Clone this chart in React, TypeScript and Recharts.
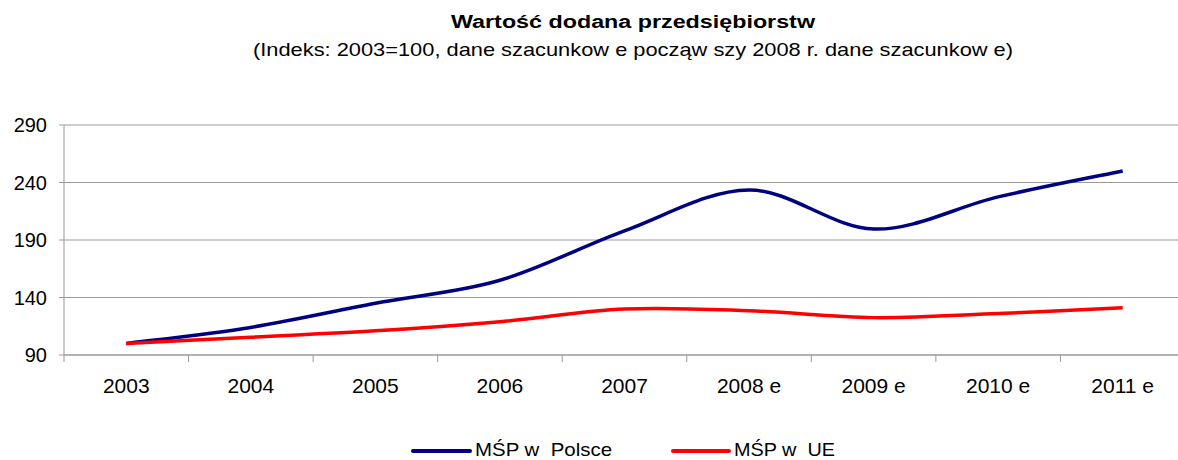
import { LineChart, Line, XAxis, YAxis, CartesianGrid } from 'recharts';

const categories = ['2003', '2004', '2005', '2006', '2007', '2008 e', '2009 e', '2010 e', '2011 e'];
const polska = [100, 114, 135, 155, 198, 233.5, 199.5, 227.5, 250];
const ue = [100, 105.5, 111, 119, 130, 128.5, 122.5, 126, 131];
const yTicks = [90, 140, 190, 240, 290];

const data = categories.map((c, i) => ({ idx: i, name: c, polska: polska[i], ue: ue[i] }));

// band edges (tick marks) and band centres (labels)
const xTicks: number[] = [];
for (let i = 0; i < categories.length; i++) xTicks.push(i - 0.5, i);

const FONT = "'Liberation Sans', Arial, sans-serif";
const AXIS_Y = 355;

// Excel-like smoothing (Catmull-Rom as cubic beziers)
const excelSmooth = (context: any) => {
  let pts: number[][] = [];
  return {
    areaStart() {},
    areaEnd() {},
    lineStart() {
      pts = [];
    },
    point(x: number, y: number) {
      pts.push([+x, +y]);
    },
    lineEnd() {
      const n = pts.length;
      if (!n) return;
      context.moveTo(pts[0][0], pts[0][1]);
      for (let i = 0; i < n - 1; i++) {
        const p0 = pts[Math.max(i - 1, 0)];
        const p1 = pts[i];
        const p2 = pts[i + 1];
        const p3 = pts[Math.min(i + 2, n - 1)];
        context.bezierCurveTo(
          p1[0] + (p2[0] - p0[0]) / 6,
          p1[1] + (p2[1] - p0[1]) / 6,
          p2[0] - (p3[0] - p1[0]) / 6,
          p2[1] - (p3[1] - p1[1]) / 6,
          p2[0],
          p2[1]
        );
      }
    },
  };
};

function XTick({ x, payload }: any) {
  const v = payload.value;
  if (!Number.isInteger(v)) {
    return <line x1={x} x2={x} y1={AXIS_Y} y2={AXIS_Y + 7} stroke='#999' strokeWidth={1} />;
  }
  return (
    <text x={x} y={AXIS_Y + 38} textAnchor='middle' fontFamily={FONT} fontSize={21} fill='#000'>
      {categories[v]}
    </text>
  );
}

export default function App() {
  return (
    <div style={{ position: 'relative', width: 1178, height: 460, background: '#fff' }}>
      <style>{'body{margin:0}'}</style>
      <LineChart
        width={1178}
        height={460}
        data={data}
        margin={{ top: 125, right: 0, bottom: 0, left: 0 }}
      >
        <CartesianGrid vertical={false} stroke='#999' strokeWidth={1} />
        <XAxis
          dataKey='idx'
          type='number'
          domain={[-0.5, 8.444]}
          ticks={xTicks}
          interval={0}
          allowDataOverflow
          tick={<XTick />}
          tickLine={false}
          axisLine={{ stroke: '#999' }}
          height={105}
        />
        <YAxis
          domain={[90, 290]}
          ticks={yTicks}
          width={64}
          tickSize={5}
          tickMargin={12}
          tickLine={{ stroke: '#999' }}
          axisLine={{ stroke: '#999' }}
          tick={{ fontFamily: FONT, fontSize: 20, fill: '#000' }}
        />
        <Line
          dataKey='polska'
          type={excelSmooth as any}
          stroke='#000080'
          strokeWidth={3.5}
          dot={false}
          isAnimationActive={false}
        />
        <Line
          dataKey='ue'
          type={excelSmooth as any}
          stroke='#ff0000'
          strokeWidth={3.5}
          dot={false}
          isAnimationActive={false}
        />
      </LineChart>
      <svg
        width={1178}
        height={460}
        style={{ position: 'absolute', left: 0, top: 0, pointerEvents: 'none' }}
      >
        <text x={451} y={28} fontFamily={FONT} fontSize={18} fontWeight='bold' textLength={364} lengthAdjust='spacingAndGlyphs'>
          Wartość dodana przedsiębiorstw
        </text>
        <text x={253} y={56} fontFamily={FONT} fontSize={19} textLength={760} lengthAdjust='spacingAndGlyphs'>
          (Indeks: 2003=100, dane szacunkow e począw szy 2008 r. dane szacunkow e)
        </text>
        <line x1={413} x2={470} y1={451} y2={451} stroke='#000080' strokeWidth={4} strokeLinecap='round' />
        <text x={475} y={456} fontFamily={FONT} fontSize={19} textLength={137} lengthAdjust='spacingAndGlyphs' style={{ whiteSpace: 'pre' }}>
          MŚP w  Polsce
        </text>
        <line x1={673} x2={729} y1={451} y2={451} stroke='#ff0000' strokeWidth={4} strokeLinecap='round' />
        <text x={734} y={456} fontFamily={FONT} fontSize={19} textLength={101} lengthAdjust='spacingAndGlyphs' style={{ whiteSpace: 'pre' }}>
          MŚP w  UE
        </text>
      </svg>
    </div>
  );
}
